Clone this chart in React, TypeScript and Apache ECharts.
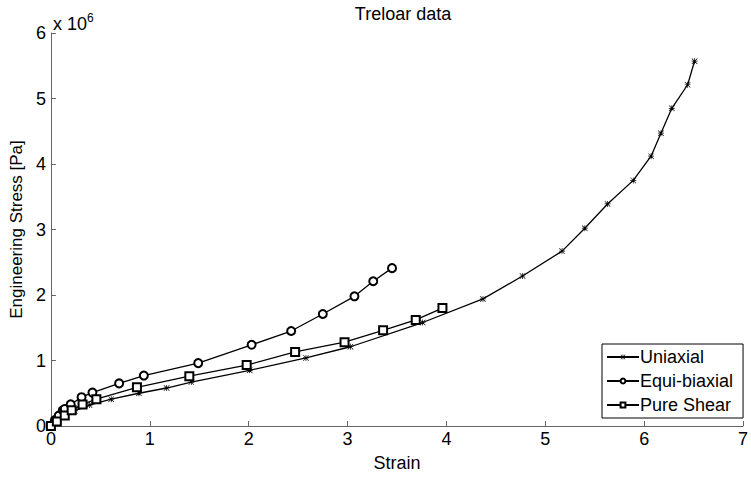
import React, { useEffect, useRef } from "react";
import * as echarts from "echarts";

// Treloar data: strain [-] and engineering stress [x 10^6 Pa]
const uniStrain = [0.0, 0.01, 0.12, 0.24, 0.39, 0.61, 0.89, 1.17, 1.42, 2.01, 2.58, 3.03, 3.76, 4.37, 4.77, 5.17, 5.40, 5.63, 5.89, 6.07, 6.17, 6.28, 6.44, 6.51];
const uniStress = [0.0, 0.03, 0.14, 0.23, 0.32, 0.41, 0.50, 0.58, 0.67, 0.85, 1.04, 1.21, 1.58, 1.94, 2.29, 2.67, 3.02, 3.39, 3.75, 4.12, 4.47, 4.85, 5.21, 5.57];

const biStrain = [0.0, 0.04, 0.08, 0.12, 0.14, 0.20, 0.31, 0.42, 0.69, 0.94, 1.49, 2.03, 2.43, 2.75, 3.07, 3.26, 3.45];
const biStress = [0.0, 0.09, 0.16, 0.24, 0.26, 0.33, 0.44, 0.51, 0.65, 0.77, 0.96, 1.24, 1.45, 1.71, 1.98, 2.21, 2.41];

const psStrain = [0.0, 0.06, 0.14, 0.21, 0.32, 0.46, 0.87, 1.40, 1.98, 2.47, 2.97, 3.36, 3.69, 3.96];
const psStress = [0.0, 0.07, 0.16, 0.24, 0.33, 0.41, 0.59, 0.76, 0.93, 1.13, 1.28, 1.46, 1.62, 1.80];

const seriesNames = ["Uniaxial", "Equi-biaxial", "Pure Shear"];
const xTicks = [0, 1, 2, 3, 4, 5, 6, 7];
const yTicks = [0, 1, 2, 3, 4, 5, 6];

const FONT = "'Liberation Sans', Arial, Helvetica, sans-serif";
const STAR =
  "path://M4.4 0H5.6V4.4H10V5.6H5.6V10H4.4V5.6H0V4.4H4.4Z M0.8 0L10 9.2L9.2 10L0 0.8Z M9.2 0L10 0.8L0.8 10L0 9.2Z";

const zip = (xs: number[], ys: number[]) => xs.map((x, i) => [x, ys[i]]);

export default function App() {
  const ref = useRef<HTMLDivElement>(null);
  useEffect(() => {
    if (!ref.current) return;
    const chart = echarts.init(ref.current, undefined, { renderer: "svg" });
    const lineStyle = { color: "#000", width: 1.3 };
    chart.setOption({
      animation: false,
      backgroundColor: "#fff",
      textStyle: { fontFamily: FONT },
      title: {
        text: "Treloar data",
        left: 398,
        textAlign: "center",
        top: 0,
        textStyle: { fontFamily: FONT, fontSize: 18, fontWeight: "normal", color: "#000" },
      },
      grid: { left: 50, top: 33, width: 696, height: 397, containLabel: false },
      xAxis: {
        type: "value",
        min: xTicks[0],
        max: xTicks[xTicks.length - 1],
        interval: 1,
        name: "Strain",
        nameLocation: "middle",
        nameGap: 28,
        nameTextStyle: { fontFamily: FONT, fontSize: 18, color: "#000" },
        axisLine: { onZero: false, lineStyle: { color: "#666", width: 1 } },
        axisTick: { inside: true, length: 5, lineStyle: { color: "#666" } },
        axisLabel: { fontFamily: FONT, fontSize: 18, color: "#000", margin: 4 },
        splitLine: { show: false },
      },
      yAxis: {
        type: "value",
        min: yTicks[0],
        max: yTicks[yTicks.length - 1],
        interval: 1,
        name: "Engineering Stress [Pa]",
        nameLocation: "middle",
        nameGap: 25,
        nameTextStyle: { fontFamily: FONT, fontSize: 17, color: "#000" },
        axisLine: { onZero: false, lineStyle: { color: "#666", width: 1 } },
        axisTick: { inside: true, length: 5, lineStyle: { color: "#666" } },
        axisLabel: { fontFamily: FONT, fontSize: 18, color: "#000", margin: 5 },
        splitLine: { show: false },
      },
      legend: {
        orient: "vertical",
        left: 602,
        top: 344,
        data: seriesNames,
        itemWidth: 32,
        itemHeight: 6,
        itemGap: 6,
        padding: [4, 10, 4, 4],
        borderColor: "#000",
        borderWidth: 1,
        backgroundColor: "#fff",
        textStyle: { fontFamily: FONT, fontSize: 18, color: "#000", padding: [0, 0, 0, -4] },
      },
      graphic: [
        {
          type: "text",
          left: 53,
          top: 12,
          style: {
            text: "x 10{sup|6}",
            fill: "#000",
            font: `18px ${FONT}`,
            rich: {
              sup: { fontSize: 12, fontFamily: FONT, verticalAlign: "top", padding: [0, 0, 12, 0], fill: "#000" },
            },
          },
        },
      ],
      series: [
        {
          name: seriesNames[0],
          type: "line",
          data: zip(uniStrain, uniStress),
          symbol: STAR,
          symbolSize: 6,
          showAllSymbol: true,
          lineStyle,
          itemStyle: { color: "#000", borderWidth: 0 },
        },
        {
          name: seriesNames[1],
          type: "line",
          data: zip(biStrain, biStress),
          symbol: "emptyCircle",
          symbolSize: 8,
          showAllSymbol: true,
          lineStyle,
          itemStyle: { color: "#000", borderColor: "#000", borderWidth: 1.1 },
        },
        {
          name: seriesNames[2],
          type: "line",
          data: zip(psStrain, psStress),
          symbol: "emptyRect",
          symbolSize: 8,
          showAllSymbol: true,
          lineStyle,
          itemStyle: { color: "#000", borderColor: "#000", borderWidth: 1.1 },
        },
      ],
    });
    return () => chart.dispose();
  }, []);
  return (
    <div
      ref={ref}
      style={{ position: "fixed", left: 0, top: 0, width: 751, height: 477, background: "#fff" }}
    />
  );
}
